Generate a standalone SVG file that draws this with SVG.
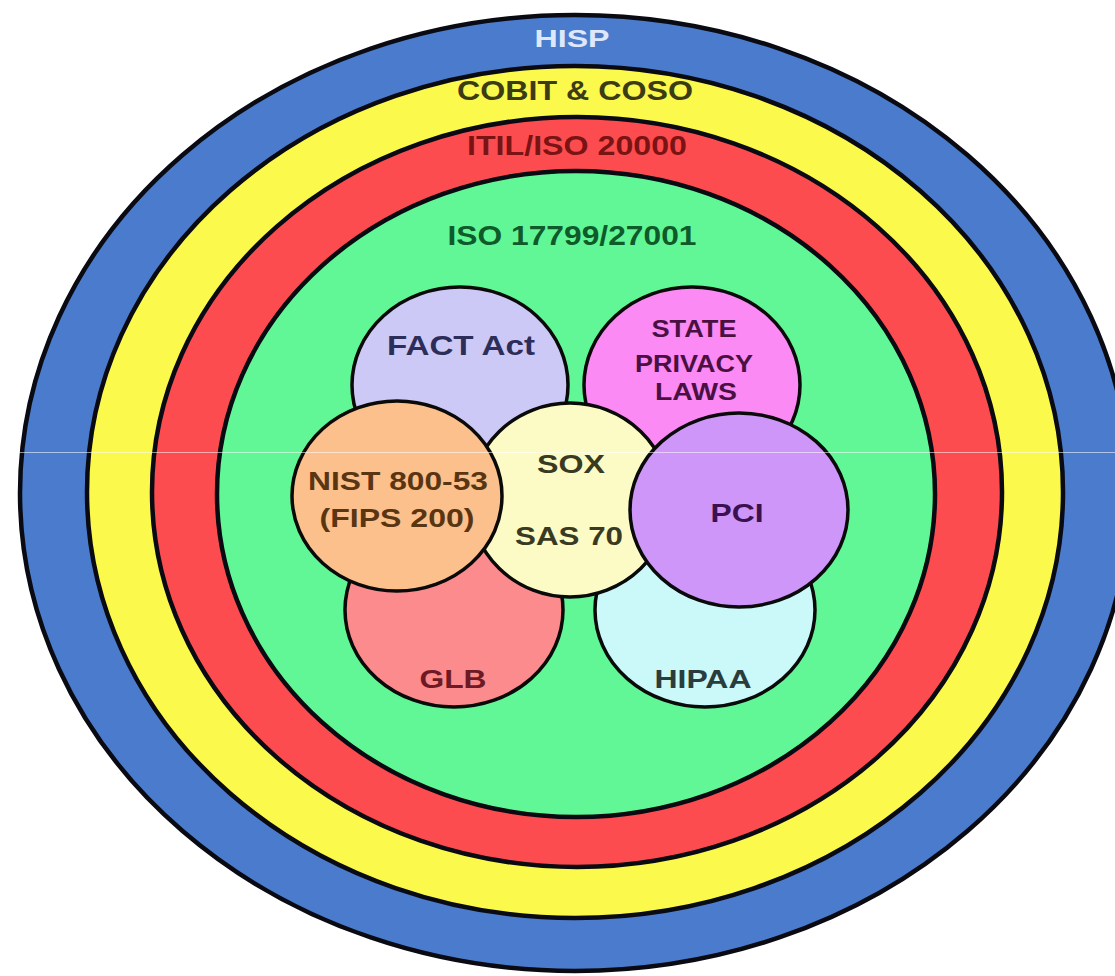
<svg xmlns="http://www.w3.org/2000/svg" width="1115" height="976" viewBox="0 0 1115 976">
<style>
  .ring { stroke: #0a0a12; stroke-width: 4.5; }
  .bub { stroke: #0a0a0a; stroke-width: 3.5; }
  .t { font-family: "Liberation Sans", Arial, sans-serif; font-weight: bold; text-anchor: middle; }
</style>
<rect width="1115" height="976" fill="#ffffff"/>
<g id="hisp">
  <ellipse class="ring" cx="575" cy="493" rx="555" ry="478" fill="#4a7bcc"/>
  <text class="t" x="572" y="47" font-size="23" fill="#dfe8fb" textLength="75" lengthAdjust="spacingAndGlyphs">HISP</text>
</g>
<g id="cobit-coso">
  <ellipse class="ring" cx="575" cy="492" rx="488" ry="426" fill="#fbf94c"/>
  <text class="t" x="575" y="100" font-size="27" fill="#3b3b14" textLength="236" lengthAdjust="spacingAndGlyphs">COBIT &amp; COSO</text>
</g>
<g id="itil-iso">
  <ellipse class="ring" cx="577" cy="492" rx="425" ry="375" fill="#fd4c4f"/>
  <text class="t" x="577" y="155" font-size="27" fill="#7a1414" textLength="220" lengthAdjust="spacingAndGlyphs">ITIL/ISO 20000</text>
</g>
<g id="iso-17799">
  <ellipse class="ring" cx="576" cy="494" rx="359" ry="323" fill="#62f796"/>
  <text class="t" x="572" y="245" font-size="27" fill="#0f5a2a" textLength="249" lengthAdjust="spacingAndGlyphs">ISO 17799/27001</text>
</g>
<g id="fact-act">
  <ellipse class="bub" cx="460" cy="385" rx="108" ry="98" fill="#cdc9f6"/>
  <text class="t" x="461" y="355" font-size="27" fill="#2d2d5a" textLength="148" lengthAdjust="spacingAndGlyphs">FACT Act</text>
</g>
<g id="state-privacy-laws">
  <ellipse class="bub" cx="692" cy="385" rx="108" ry="98" fill="#fb8af4"/>
  <text class="t" x="694" y="337" font-size="24" fill="#4a1042" textLength="85" lengthAdjust="spacingAndGlyphs">STATE</text>
  <text class="t" x="694" y="372" font-size="24" fill="#4a1042" textLength="118" lengthAdjust="spacingAndGlyphs">PRIVACY</text>
  <text class="t" x="696" y="400" font-size="24" fill="#4a1042" textLength="82" lengthAdjust="spacingAndGlyphs">LAWS</text>
</g>
<g id="glb">
  <ellipse class="bub" cx="454" cy="610" rx="109" ry="97" fill="#fb8b8d"/>
  <text class="t" x="453" y="688" font-size="26" fill="#6e1a24" textLength="67" lengthAdjust="spacingAndGlyphs">GLB</text>
</g>
<g id="hipaa">
  <ellipse class="bub" cx="705" cy="610" rx="110" ry="97" fill="#cbf8f8"/>
  <text class="t" x="703" y="688" font-size="26" fill="#2a3c3c" textLength="97" lengthAdjust="spacingAndGlyphs">HIPAA</text>
</g>
<g id="sox-sas70">
  <ellipse class="bub" cx="570" cy="500" rx="100" ry="97" fill="#fcfbc6"/>
  <text class="t" x="571" y="473" font-size="26" fill="#3a3a22" textLength="68" lengthAdjust="spacingAndGlyphs">SOX</text>
  <text class="t" x="569" y="545" font-size="26" fill="#3a3a22" textLength="108" lengthAdjust="spacingAndGlyphs">SAS 70</text>
</g>
<g id="nist">
  <ellipse class="bub" cx="397" cy="496" rx="105" ry="95" fill="#fbc08c"/>
  <text class="t" x="398" y="490" font-size="26" fill="#5a3512" textLength="180" lengthAdjust="spacingAndGlyphs">NIST 800-53</text>
  <text class="t" x="397" y="527" font-size="26" fill="#5a3512" textLength="155" lengthAdjust="spacingAndGlyphs">(FIPS 200)</text>
</g>
<g id="pci">
  <ellipse class="bub" cx="739" cy="510" rx="109" ry="97" fill="#cd96f8"/>
  <text class="t" x="737" y="522" font-size="26" fill="#3a1050" textLength="53" lengthAdjust="spacingAndGlyphs">PCI</text>
</g>
<g id="connectors"></g>
<line x1="0" y1="452.5" x2="1115" y2="452.5" stroke="#ffffff" stroke-opacity="0.55" stroke-width="1"/>
</svg>
